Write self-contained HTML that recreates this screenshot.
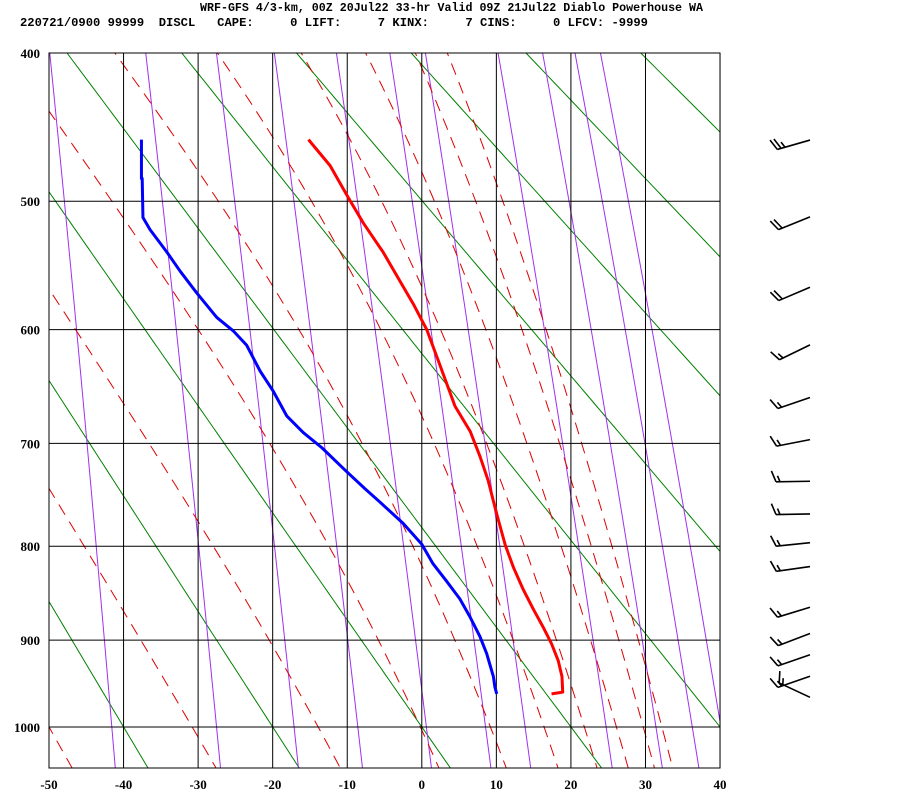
<!DOCTYPE html>
<html><head><meta charset="utf-8">
<style>
html,body{margin:0;padding:0;background:#fff;}
svg{display:block;}
.hdr{font-family:"Liberation Mono",monospace;font-weight:bold;font-size:12px;fill:#000;}
.ax{font-family:"Liberation Serif",serif;font-weight:bold;font-size:13px;fill:#000;}
</style></head>
<body>
<svg id="chart" width="900" height="800" viewBox="0 0 900 800" xmlns="http://www.w3.org/2000/svg">
<text class="hdr" x="200" y="11" textLength="503" lengthAdjust="spacingAndGlyphs">WRF-GFS 4/3-km, 00Z 20Jul22 33-hr Valid 09Z 21Jul22 Diablo Powerhouse WA</text>
<text class="hdr" x="20" y="26" textLength="628" lengthAdjust="spacingAndGlyphs" xml:space="preserve">220721/0900 99999  DISCL   CAPE:     0 LIFT:     7 KINX:     7 CINS:     0 LFCV: -9999</text>
<defs><clipPath id="plotclip"><rect x="49" y="53" width="671" height="715"/></clipPath></defs>
<g id="bg-lines" clip-path="url(#plotclip)"></g>
<g id="grid"></g>
<g id="profiles" clip-path="url(#plotclip)"></g>
<g id="labels"></g>
<g id="barbs"></g>
</svg>
<script>
// ---- data ----
const pressureTicks = [400, 500, 600, 700, 800, 900, 1000];
const tempTicks = [-50, -40, -30, -20, -10, 0, 10, 20, 30, 40];
const dryAdiabatThetaC = [-60, -40, -20, 0, 20, 40, 60, 80, 100, 120];
const mixingRatios = [0.1, 0.4, 1, 2, 4, 7, 10, 20, 30, 40, 50];
const moistStartT1000 = [-50, -30.8, -13.9, -0.2, 9.2, 16.4, 21.8, 26.1, 29.7, 32.2];
const tempP = [961, 959, 941, 923, 904, 886, 866, 845, 822, 799, 774.5, 755, 735, 712, 689, 666, 626, 600, 579, 561, 538, 516, 497, 474.5, 456.5];
const tempT = [17.4, 18.9, 18.8, 18.3, 17.4, 16.3, 14.95, 13.6, 12.3, 11.2, 10.3, 9.6, 8.9, 7.8, 6.5, 4.45, 2.2, 0.66, -1.14, -2.9, -5.2, -7.85, -9.9, -12.3, -15.2];
const dewP = [961, 953, 941, 915, 896, 875, 855, 836, 818, 798, 777, 756, 743, 725, 704, 690, 675, 653, 635, 613, 601, 590, 570, 553, 538, 521, 512, 483.6, 483.6, 456.5];
const dewT = [10.05, 9.8, 9.6, 8.7, 7.8, 6.5, 5.1, 3.3, 1.5, 0.0, -2.5, -5.6, -7.6, -10.3, -13.4, -15.9, -18.1, -19.9, -21.7, -23.5, -25.3, -27.5, -30.2, -32.4, -34.2, -36.45, -37.4, -37.5, -37.6, -37.6];
const windP = [456.8, 511.5, 565.6, 612.8, 658.3, 696.5, 735.7, 767.6, 796.4, 821, 864, 892.6, 916.3, 940.7, 965];
const windDir = [254, 248, 247, 244, 251, 259, 269, 269, 264, 262, 253, 249, 251, 251, 295];
const windKts = [25, 20, 20, 15, 15, 15, 15, 15, 15, 15, 15, 15, 15, 15, 15];

// ---- scales ----
const K = 0.286;
function X(T){ return 49 + (T + 50) * 7.456; }
function Y(p){ return 53 + (Math.pow(p, K) - Math.pow(400, K)) * 405.4; }
const NS = "http://www.w3.org/2000/svg";
function mk(tag, attrs, parent){
  const e = document.createElementNS(NS, tag);
  for (const k in attrs) e.setAttribute(k, attrs[k]);
  parent.appendChild(e);
  return e;
}
function pathFrom(pts){ return pts.map((q,i)=>(i?"L":"M")+q[0].toFixed(2)+","+q[1].toFixed(2)).join(""); }
const bg = document.getElementById("bg-lines");
const grid = document.getElementById("grid");
const prof = document.getElementById("profiles");
const lab = document.getElementById("labels");
const brb = document.getElementById("barbs");
const PTOP = 395, PBOT = 1060;

// dry adiabats
dryAdiabatThetaC.forEach(th => {
  const pts = [];
  for (let p = PTOP; p <= PBOT; p += 5) pts.push([X((th + 273.15) * Math.pow(p / 1000, K) - 273.15), Y(p)]);
  const e = mk("path", {d: pathFrom(pts), fill: "none", stroke: "#008000", "stroke-width": 1}, bg);
  
  
});
// mixing ratio lines
function tFromW(w, p){
  const e = w * p / (622 + w);
  const l = Math.log(e / 6.112);
  return 243.5 * l / (17.67 - l);
}
mixingRatios.forEach(w => {
  const pts = [];
  for (let p = PTOP; p <= PBOT; p += 5) pts.push([X(tFromW(w, p)), Y(p)]);
  const e = mk("path", {d: pathFrom(pts), fill: "none", stroke: "#a030f0", "stroke-width": 1}, bg);
  
  
});
// moist adiabats
function dTdp(p, T){
  const Tc = T - 273.15;
  const es = 6.112 * Math.exp(17.67 * Tc / (Tc + 243.5));
  const rs = 0.622 * es / (p - es);
  const Rd = 287, cp = 1005, Lv = 2.5e6;
  return (Rd * T + Lv * rs) / p / (cp + Lv * Lv * rs * 0.622 / (Rd * T * T));
}
function integrate(T0, p0, p1, step){
  const out = [[p0, T0]];
  let T = T0, p = p0;
  const n = Math.round(Math.abs(p1 - p0) / step), h = (p1 - p0) / n;
  for (let i = 0; i < n; i++){
    const k1 = dTdp(p, T), k2 = dTdp(p + h/2, T + h/2*k1), k3 = dTdp(p + h/2, T + h/2*k2), k4 = dTdp(p + h, T + h*k3);
    T += h/6*(k1 + 2*k2 + 2*k3 + k4); p += h;
    out.push([p, T]);
  }
  return out;
}
moistStartT1000.forEach(t0 => {
  const up = integrate(t0 + 273.15, 1000, PTOP, 2).reverse();
  const dn = integrate(t0 + 273.15, 1000, PBOT, 2).slice(1);
  const pts = up.concat(dn).map(q => [X(q[1] - 273.15), Y(q[0])]);
  const e = mk("path", {d: pathFrom(pts), fill: "none", stroke: "#dd0000", "stroke-width": 1, "stroke-dasharray": "12,8"}, bg);
  
  
});
// grid
tempTicks.forEach(t => {
  const e = mk("line", {x1: X(t), x2: X(t), y1: 53, y2: 768, stroke: "#000", "stroke-width": 1}, grid);
  
  
  const l = mk("text", {x: X(t), y: 789, "text-anchor": "middle", class: "ax"}, lab);
  l.textContent = t;
  
  
});
pressureTicks.forEach(p => {
  const e = mk("line", {x1: 49, x2: 720, y1: Y(p), y2: Y(p), stroke: "#000", "stroke-width": 1}, grid);
  
  
  const l = mk("text", {x: 40, y: Y(p) + 5, "text-anchor": "end", class: "ax"}, lab);
  l.textContent = p;
  
  
});
const box = mk("rect", {x: 49, y: 53, width: 671, height: 715, fill: "none", stroke: "#000", "stroke-width": 1}, grid);


// profiles
const tPath = mk("path", {d: pathFrom(tempP.map((p,i)=>[X(tempT[i]), Y(p)])), fill: "none", stroke: "#ff0000", "stroke-width": 3, "stroke-linejoin": "round"}, prof);


const dPath = mk("path", {d: pathFrom(dewP.map((p,i)=>[X(dewT[i]), Y(p)])), fill: "none", stroke: "#0000ff", "stroke-width": 3, "stroke-linejoin": "round"}, prof);


// wind barbs
windP.forEach((p, i) => {
  const tipX = 810, tipY = Y(p);
  const a = windDir[i] * Math.PI / 180;
  const ux = Math.sin(a), uy = -Math.cos(a);
  const L = 34;
  const ex = tipX + ux * L, ey = tipY + uy * L;
  const g = mk("g", {stroke: "#000", "stroke-width": 1.6, fill: "none"}, brb);
  
  
  mk("line", {x1: tipX, y1: tipY, x2: ex, y2: ey}, g);
  let s = windKts[i], k = 0;
  const px = -uy, py = ux;
  const sgn = (py < 0) ? 1 : -1;
  while (s >= 5){
    const full = s >= 10;
    const len = full ? 11 : 6;
    const bx = ex - ux * k * 4, by = ey - uy * k * 4;
    const dx = sgn * px * len + ux * len * 0.4, dy = sgn * py * len + uy * len * 0.4;
    mk("line", {x1: bx, y1: by, x2: bx + dx, y2: by + dy}, g);
    s -= full ? 10 : 5; k++;
  }
});
</script>
</body></html>
